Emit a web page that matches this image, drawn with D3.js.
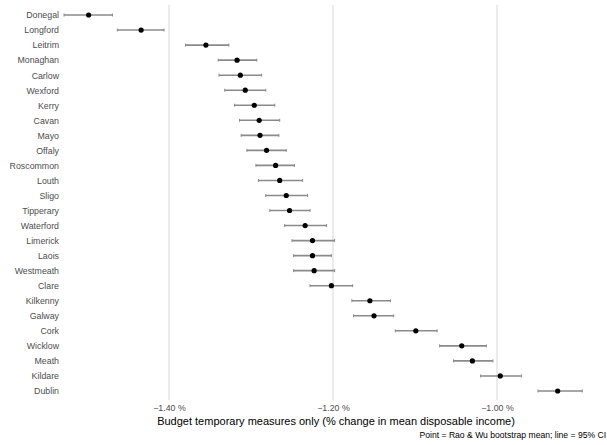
<!DOCTYPE html>
<html>
<head>
<meta charset="utf-8">
<script src="https://cdn.jsdelivr.net/npm/d3@7/dist/d3.min.js"></script>
<style>
  html, body { margin: 0; padding: 0; background: #fff; }
  svg { display: block; font-family: "Liberation Sans", Arial, sans-serif; }
</style>
</head>
<body>
<svg id="chart" width="607" height="445"></svg>
<script>
// County estimates: % change in mean disposable income, with 95% CI bounds
const counties = ["Donegal","Longford","Leitrim","Monaghan","Carlow","Wexford","Kerry","Cavan","Mayo","Offaly",
  "Roscommon","Louth","Sligo","Tipperary","Waterford","Limerick","Laois","Westmeath","Clare","Kilkenny",
  "Galway","Cork","Wicklow","Meath","Kildare","Dublin"];
const meanVals = [-1.498,-1.434,-1.355,-1.317,-1.313,-1.307,-1.296,-1.290,-1.289,-1.281,
  -1.270,-1.265,-1.257,-1.253,-1.234,-1.225,-1.225,-1.223,-1.202,-1.155,
  -1.150,-1.099,-1.043,-1.030,-0.996,-0.926];
const lowerVals = [-1.528,-1.463,-1.380,-1.340,-1.339,-1.332,-1.320,-1.314,-1.312,-1.305,
  -1.294,-1.291,-1.282,-1.277,-1.259,-1.250,-1.248,-1.248,-1.228,-1.177,
  -1.175,-1.124,-1.070,-1.053,-1.020,-0.950];
const upperVals = [-1.469,-1.406,-1.327,-1.293,-1.287,-1.282,-1.271,-1.265,-1.266,-1.257,
  -1.247,-1.237,-1.231,-1.228,-1.208,-1.198,-1.202,-1.198,-1.176,-1.130,
  -1.126,-1.073,-1.013,-1.005,-0.970,-0.896];
const tickVals = [-1.40, -1.20, -1.00];
const xTitle = "Budget temporary measures only (% change in mean disposable income)";
const caption = "Point = Rao & Wu bootstrap mean; line = 95% CI";

const rows = counties.map((c, i) => ({ county: c, mean: meanVals[i], lo: lowerVals[i], hi: upperVals[i] }));

const svg = d3.select("#chart");
const panel = { left: 64, right: 607, top: 6, bottom: 400 };

const x = d3.scaleLinear().domain([-1.40, -1.00]).range([169, 497]);
const y = d3.scalePoint().domain(counties).range([panel.top, panel.bottom]).padding(0.6);

// vertical major gridlines
svg.append("g").selectAll("line").data(tickVals).join("line")
  .attr("x1", d => x(d)).attr("x2", d => x(d))
  .attr("y1", panel.top - 1).attr("y2", panel.bottom)
  .attr("stroke", "#e5e5e5").attr("stroke-width", 1.5);

// y axis labels
const yAxis = d3.axisLeft(y).tickSize(0).tickPadding(5);
svg.append("g").attr("transform", `translate(${panel.left},0)`).call(yAxis)
  .call(g => g.select(".domain").remove())
  .call(g => g.selectAll("text").attr("fill", "#4d4d4d").style("font-size", "8.8px")
    .style("font-family", "'Liberation Sans', Arial, sans-serif"));

// x axis labels
const xAxis = d3.axisBottom(x).tickValues(tickVals).tickSize(0).tickPadding(5)
  .tickFormat(d => d3.format(".2f")(d) + " %");
svg.append("g").attr("transform", `translate(0,${panel.bottom})`).call(xAxis)
  .call(g => g.select(".domain").remove())
  .call(g => g.selectAll("text").attr("fill", "#4d4d4d").style("font-size", "8.8px")
    .style("font-family", "'Liberation Sans', Arial, sans-serif"));

// error bars
const eb = svg.append("g").selectAll("g").data(rows).join("g");
eb.append("line")
  .attr("x1", d => x(d.lo)).attr("x2", d => x(d.hi))
  .attr("y1", d => y(d.county)).attr("y2", d => y(d.county))
  .attr("stroke", "#8a8a8a").attr("stroke-width", 1.6);
eb.append("line")
  .attr("x1", d => x(d.lo)).attr("x2", d => x(d.lo))
  .attr("y1", d => y(d.county) - 1.5).attr("y2", d => y(d.county) + 1.5)
  .attr("stroke", "#8a8a8a").attr("stroke-width", 1);
eb.append("line")
  .attr("x1", d => x(d.hi)).attr("x2", d => x(d.hi))
  .attr("y1", d => y(d.county) - 1.5).attr("y2", d => y(d.county) + 1.5)
  .attr("stroke", "#8a8a8a").attr("stroke-width", 1);

// points
svg.append("g").selectAll("circle").data(rows).join("circle")
  .attr("cx", d => x(d.mean)).attr("cy", d => y(d.county))
  .attr("r", 2.6).attr("fill", "#000");

// axis title
svg.append("text").attr("x", 336).attr("y", 424.5)
  .attr("text-anchor", "middle").attr("fill", "#000")
  .style("font-size", "11px").text(xTitle);

// caption
svg.append("text").attr("x", 419.5).attr("y", 437.5)
  .attr("text-anchor", "start").attr("fill", "#000")
  .style("font-size", "8.6px").text(caption);
</script>
</body>
</html>
